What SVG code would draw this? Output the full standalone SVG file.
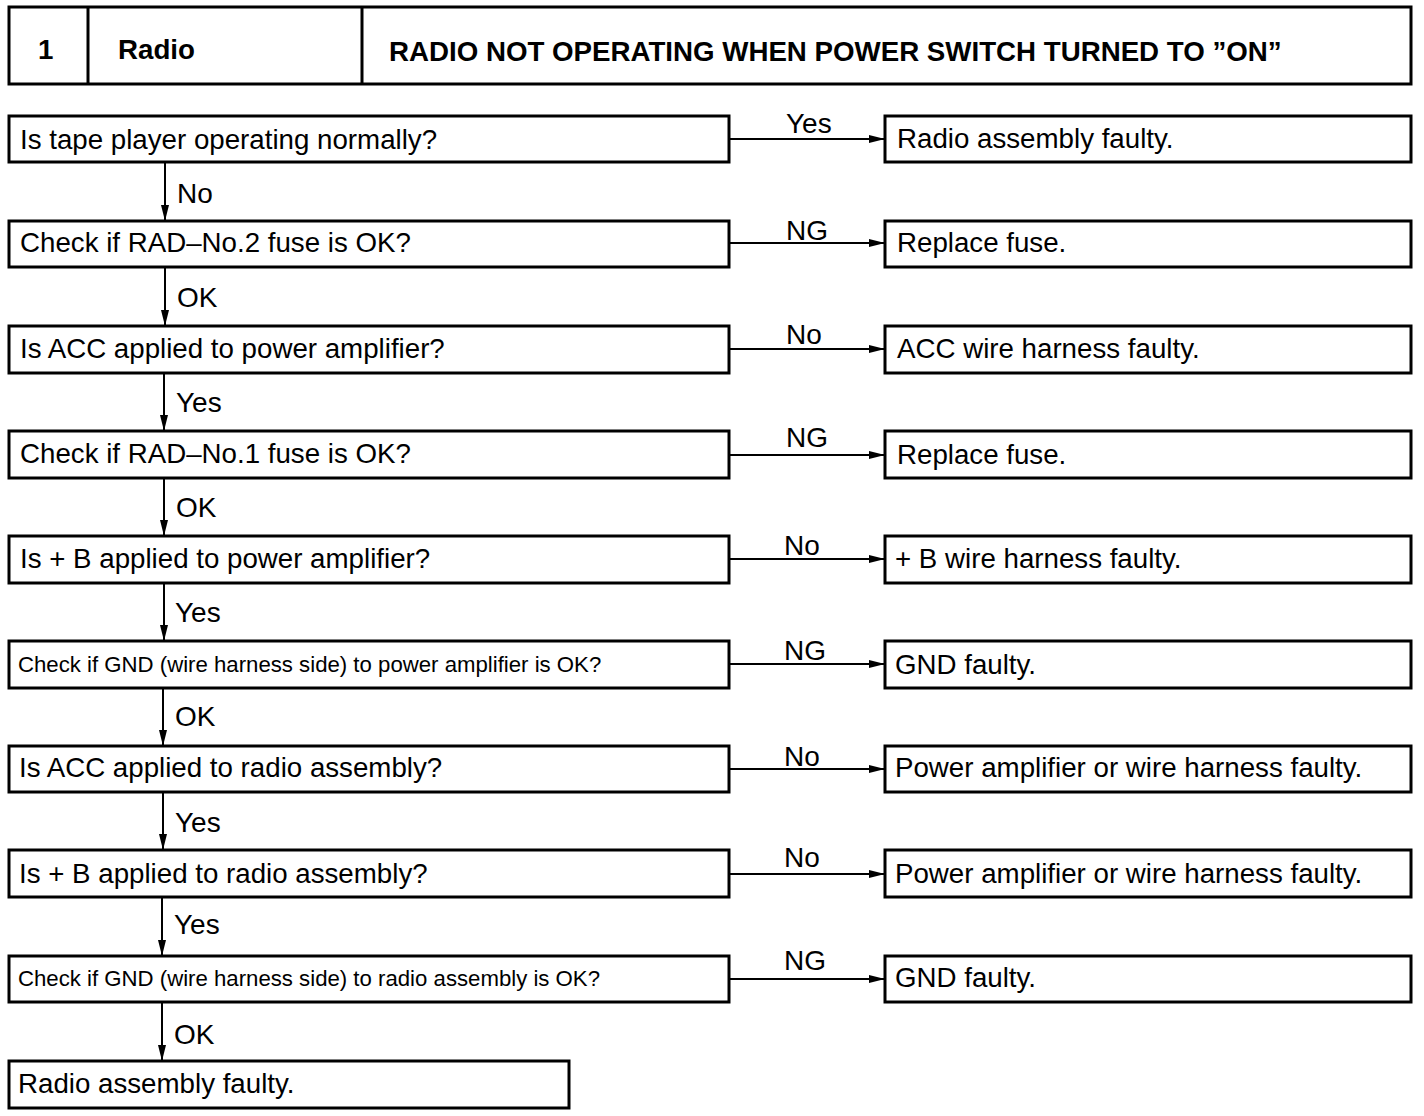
<svg xmlns="http://www.w3.org/2000/svg" width="1424" height="1116" viewBox="0 0 1424 1116">
<defs>
<marker id="ah" markerWidth="16" markerHeight="10" refX="15" refY="5" orient="auto" markerUnits="userSpaceOnUse">
<path d="M0,1 L16,5 L0,9 Z" fill="#000"/>
</marker>
</defs>
<style>
.b{fill:#fff;stroke:#000;stroke-width:3}
.t{font-family:"Liberation Sans",Arial,sans-serif;font-size:27.7px;fill:#000}
.s{font-family:"Liberation Sans",Arial,sans-serif;font-size:22.2px;fill:#000}
.h{font-family:"Liberation Sans",Arial,sans-serif;font-size:27.7px;font-weight:bold;fill:#000}
.l{font-family:"Liberation Sans",Arial,sans-serif;font-size:28px;fill:#000}
.c{stroke:#000;stroke-width:2;fill:none;marker-end:url(#ah)}
</style>
<rect width="1424" height="1116" fill="#fff"/>
<g id="header">
<rect class="b" x="9" y="7" width="1402" height="77"/>
<line x1="88" y1="7" x2="88" y2="84" stroke="#000" stroke-width="3"/>
<line x1="362" y1="7" x2="362" y2="84" stroke="#000" stroke-width="3"/>
<text class="h" x="38" y="59">1</text>
<text class="h" x="118" y="59">Radio</text>
<text class="h" x="389" y="61">RADIO NOT OPERATING WHEN POWER SWITCH TURNED TO ”ON”</text>
</g>
<g id="q1"><rect class="b" x="9" y="116" width="720" height="46"/><text class="t" x="20" y="149">Is tape player operating normally?</text></g>
<g id="r1"><rect class="b" x="885" y="116" width="526" height="46"/><text class="t" x="897" y="148">Radio assembly faulty.</text></g>
<g id="q2"><rect class="b" x="9" y="221" width="720" height="46"/><text class="t" x="20" y="252">Check if RAD–No.2 fuse is OK?</text></g>
<g id="r2"><rect class="b" x="885" y="221" width="526" height="46"/><text class="t" x="897" y="252">Replace fuse.</text></g>
<g id="q3"><rect class="b" x="9" y="326" width="720" height="47"/><text class="t" x="20" y="358">Is ACC applied to power amplifier?</text></g>
<g id="r3"><rect class="b" x="885" y="326" width="526" height="47"/><text class="t" x="897" y="358">ACC wire harness faulty.</text></g>
<g id="q4"><rect class="b" x="9" y="431" width="720" height="47"/><text class="t" x="20" y="463">Check if RAD–No.1 fuse is OK?</text></g>
<g id="r4"><rect class="b" x="885" y="431" width="526" height="47"/><text class="t" x="897" y="464">Replace fuse.</text></g>
<g id="q5"><rect class="b" x="9" y="536" width="720" height="47"/><text class="t" x="20" y="568">Is + B applied to power amplifier?</text></g>
<g id="r5"><rect class="b" x="885" y="536" width="526" height="47"/><text class="t" x="895" y="568">+ B wire harness faulty.</text></g>
<g id="q6"><rect class="b" x="9" y="641" width="720" height="47"/><text class="s" x="18" y="672">Check if GND (wire harness side) to power amplifier is OK?</text></g>
<g id="r6"><rect class="b" x="885" y="641" width="526" height="47"/><text class="t" x="895" y="674">GND faulty.</text></g>
<g id="q7"><rect class="b" x="9" y="746" width="720" height="46"/><text class="t" x="19" y="777">Is ACC applied to radio assembly?</text></g>
<g id="r7"><rect class="b" x="885" y="746" width="526" height="46"/><text class="t" x="895" y="777">Power amplifier or wire harness faulty.</text></g>
<g id="q8"><rect class="b" x="9" y="850" width="720" height="47"/><text class="t" x="19" y="883">Is + B applied to radio assembly?</text></g>
<g id="r8"><rect class="b" x="885" y="850" width="526" height="47"/><text class="t" x="895" y="883">Power amplifier or wire harness faulty.</text></g>
<g id="q9"><rect class="b" x="9" y="956" width="720" height="46"/><text class="s" x="18" y="986">Check if GND (wire harness side) to radio assembly is OK?</text></g>
<g id="r9"><rect class="b" x="885" y="956" width="526" height="46"/><text class="t" x="895" y="987">GND faulty.</text></g>
<g id="end"><rect class="b" x="9" y="1061" width="560" height="47"/><text class="t" x="18" y="1093">Radio assembly faulty.</text></g>
<g id="connectors">
<line class="c" x1="730" y1="139" x2="884" y2="139"/>
<line class="c" x1="730" y1="243" x2="884" y2="243"/>
<line class="c" x1="730" y1="349" x2="884" y2="349"/>
<line class="c" x1="730" y1="455" x2="884" y2="455"/>
<line class="c" x1="730" y1="559" x2="884" y2="559"/>
<line class="c" x1="730" y1="664" x2="884" y2="664"/>
<line class="c" x1="730" y1="769" x2="884" y2="769"/>
<line class="c" x1="730" y1="874" x2="884" y2="874"/>
<line class="c" x1="730" y1="979" x2="884" y2="979"/>
<line class="c" x1="165" y1="163" x2="165" y2="220"/>
<line class="c" x1="165" y1="268" x2="165" y2="325"/>
<line class="c" x1="164" y1="374" x2="164" y2="430"/>
<line class="c" x1="164" y1="479" x2="164" y2="535"/>
<line class="c" x1="164" y1="584" x2="164" y2="640"/>
<line class="c" x1="163" y1="689" x2="163" y2="745"/>
<line class="c" x1="163" y1="793" x2="163" y2="849"/>
<line class="c" x1="162" y1="898" x2="162" y2="955"/>
<line class="c" x1="162" y1="1003" x2="162" y2="1060"/>
<text class="l" x="786" y="133">Yes</text>
<text class="l" x="786" y="240">NG</text>
<text class="l" x="786" y="344">No</text>
<text class="l" x="786" y="447">NG</text>
<text class="l" x="784" y="555">No</text>
<text class="l" x="784" y="660">NG</text>
<text class="l" x="784" y="766">No</text>
<text class="l" x="784" y="867">No</text>
<text class="l" x="784" y="970">NG</text>
<text class="l" x="177" y="203">No</text>
<text class="l" x="177" y="307">OK</text>
<text class="l" x="176" y="412">Yes</text>
<text class="l" x="176" y="517">OK</text>
<text class="l" x="175" y="622">Yes</text>
<text class="l" x="175" y="726">OK</text>
<text class="l" x="175" y="832">Yes</text>
<text class="l" x="174" y="934">Yes</text>
<text class="l" x="174" y="1044">OK</text>
</g>
</svg>
